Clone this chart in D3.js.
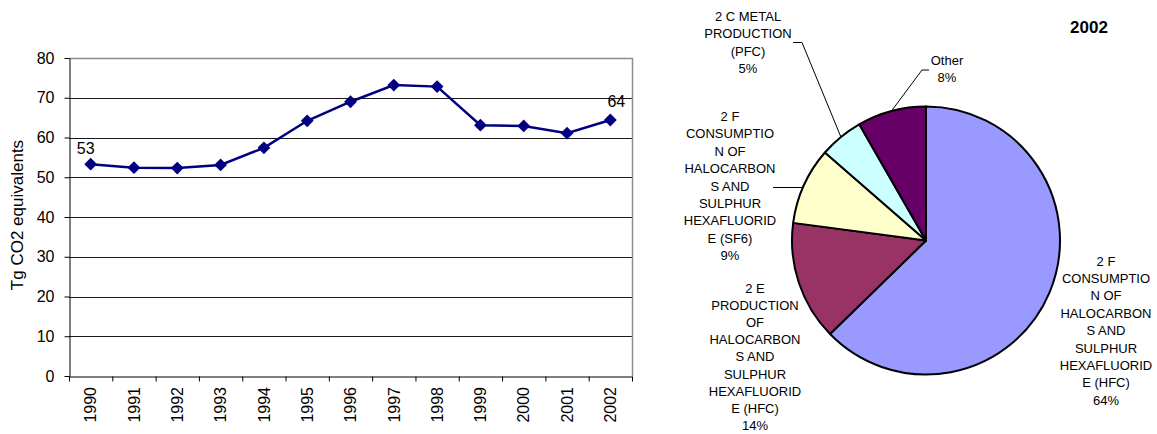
<!DOCTYPE html>
<html>
<head>
<meta charset="utf-8">
<script src="https://cdn.jsdelivr.net/npm/d3@7"></script>
<style>
  body { margin: 0; background: #fff; }
  text { font-family: "Liberation Sans", Arial, sans-serif; fill: #000; }
</style>
</head>
<body>
<div class="viewbox"></div>
<script>
// data
const years = ["1990", "1991", "1992", "1993", "1994", "1995", "1996",
               "1997", "1998", "1999", "2000", "2001", "2002"];
const emissions = [53.3, 52.4, 52.3, 53.1, 57.4, 64.2, 69.0, 73.2, 72.8, 63.1, 62.9, 61.1, 64.4];
const yTicks = [0, 10, 20, 30, 40, 50, 60, 70, 80];
const yTitle = "Tg CO2 equivalents";

const pieTitle = "2002";
const sectors = [
  "2 F\nCONSUMPTIO\nN OF\nHALOCARBON\nS AND\nSULPHUR\nHEXAFLUORID\nE (HFC)",
  "2 E\nPRODUCTION\nOF\nHALOCARBON\nS AND\nSULPHUR\nHEXAFLUORID\nE (HFC)",
  "2 F\nCONSUMPTIO\nN OF\nHALOCARBON\nS AND\nSULPHUR\nHEXAFLUORID\nE (SF6)",
  "2 C METAL\nPRODUCTION\n(PFC)",
  "Other"
];
const shares = [62.7, 14.4, 9.3, 5.3, 8.3];
const shareLabels = ["64%", "14%", "9%", "5%", "8%"];
const sliceColors = ["#9999ff", "#993366", "#ffffcc", "#ccffff", "#660066"];

const svg_width = 1157;
const svg_height = 434;

let svg = d3.select(".viewbox")
  .append("svg")
  .attr("width", svg_width)
  .attr("height", svg_height)
  .style("display", "block")

// ---------- line chart ----------
const plot = { left: 69, right: 632, top: 58, bottom: 376 };

let x = d3.scaleBand().domain(years).range([plot.left, plot.right]);
let xEdge = d3.scaleLinear().domain([0, years.length]).range([plot.left, plot.right]);
let y = d3.scaleLinear().domain([0, 80]).range([plot.bottom, plot.top]);

// gridlines
svg.append("g")
  .selectAll("line")
  .data(yTicks.filter(d => d > 0 && d < 80))
  .enter()
  .append("line")
  .attr("x1", plot.left).attr("x2", plot.right)
  .attr("y1", d => Math.round(y(d)) + 0.5).attr("y2", d => Math.round(y(d)) + 0.5)
  .attr("stroke", "#1a1a1a")

// gray plot border top + right
svg.append("path")
  .attr("d", `M${plot.left},${Math.round(y(80)) + 0.5}H${plot.right + 0.5}V${plot.bottom}`)
  .attr("fill", "none")
  .attr("stroke", "#8c8c8c")
  .attr("stroke-width", 1.5)

// y axis
let yAxis = svg.append("g")
  .attr("transform", `translate(${plot.left + 0.5},0)`)
  .call(d3.axisLeft(y).tickValues(yTicks).tickSize(5).tickPadding(10).tickSizeOuter(0))
yAxis.selectAll("text").style("font-size", "16px").style("font-family", "Liberation Sans, Arial, sans-serif")
yAxis.selectAll("line, path").attr("stroke", "#000")

// x axis: ticks sit on the band edges, labels in band centres
let xTicks = svg.append("g")
  .attr("transform", `translate(0,${plot.bottom + 0.5})`)
  .call(d3.axisBottom(xEdge).tickValues(d3.range(years.length + 1)).tickSize(5).tickFormat("").tickSizeOuter(0))
xTicks.selectAll("line, path").attr("stroke", "#000")

let xLabels = svg.append("g")
  .attr("transform", `translate(0,${plot.bottom})`)
  .call(d3.axisBottom(x).tickSize(0))
xLabels.select(".domain").remove()
xLabels.selectAll("text")
  .attr("transform", "rotate(-90)")
  .attr("x", -11)
  .attr("y", 0)
  .attr("dy", "0.36em")
  .attr("text-anchor", "end")
  .style("font-size", "16px")
  .style("font-family", "Liberation Sans, Arial, sans-serif")

// y title
svg.append("text")
  .attr("transform", `translate(23,215) rotate(-90)`)
  .attr("text-anchor", "middle")
  .style("font-size", "17px")
  .text(yTitle)

let series = years.map((yr, i) => ({ year: yr, value: emissions[i] }))
const cx = d => x(d.year) + x.bandwidth() / 2;

svg.append("path")
  .datum(series)
  .attr("fill", "none")
  .attr("stroke", "#000080")
  .attr("stroke-width", 2.5)
  .attr("d", d3.line().x(cx).y(d => y(d.value)))

svg.append("g")
  .selectAll("path")
  .data(series)
  .enter()
  .append("path")
  .attr("d", d3.symbol().type(d3.symbolSquare).size(82))
  .attr("transform", d => `translate(${cx(d)},${y(d.value)}) rotate(45)`)
  .attr("fill", "#000080")

// value labels on first and last point only (excel nudges them outward a bit)
let ends = [series[0], series[series.length - 1]]
svg.append("g")
  .selectAll("text")
  .data(ends)
  .enter()
  .append("text")
  .attr("x", (d, i) => cx(d) + (i === 0 ? -5 : 6))
  .attr("y", (d, i) => y(d.value) - (i === 0 ? 10 : 13))
  .attr("text-anchor", "middle")
  .style("font-size", "16px")
  .text(d => Math.round(d.value))

// ---------- pie ----------
const pieCx = 926, pieCy = 240.5, radius = 134;

let pieData = d3.pie().sort(null).value(d => d)(shares)
pieData.forEach((d, i) => { d.name = sectors[i]; d.pct = shareLabels[i]; d.color = sliceColors[i]; })

let arc = d3.arc().innerRadius(0).outerRadius(radius)
let rimArc = d3.arc().innerRadius(radius).outerRadius(radius)

let pie = svg.append("g").attr("transform", `translate(${pieCx},${pieCy})`)
pie.selectAll("path")
  .data(pieData)
  .enter()
  .append("path")
  .attr("d", arc)
  .attr("fill", d => d.color)
  .attr("stroke", "#000")
  .attr("stroke-width", 2)
  .attr("stroke-linejoin", "round")

// label placement (relative to pie centre): centre x, first line y, optional leader end
const labelLayout = [
  { x: 180, y: 20.5 },
  { x: -171, y: 47.5 },
  { x: -196, y: -124, leader: { x: -153, y: -53, elbow: 29 } },
  { x: -178, y: -224, leader: { x: -133, y: -198, elbow: 9 } },
  { x: 21, y: -180, leader: { x: 3, y: -170.5, elbow: -7 } }
];
const lineStep = 17.4;

pieData.forEach((d, i) => {
  let lay = labelLayout[i]
  let lines = d.name.split("\n").concat([d.pct])
  let t = pie.append("text")
    .attr("text-anchor", "middle")
    .style("font-size", "13px")
  t.selectAll("tspan")
    .data(lines)
    .enter()
    .append("tspan")
    .attr("x", lay.x)
    .attr("y", (l, j) => lay.y + j * (i === 1 ? 17.2 : lineStep))
    .attr("dy", "0.35em")
    .text(l => l)

  if (lay.leader) {
    let edge = rimArc.centroid(d)
    let pts = [edge, [lay.leader.x + lay.leader.elbow, lay.leader.y], [lay.leader.x, lay.leader.y]]
    pie.append("path")
      .attr("d", d3.line()(pts))
      .attr("fill", "none")
      .attr("stroke", "#000")
      .attr("stroke-width", 1)
  }
})

svg.append("text")
  .attr("x", 1089)
  .attr("y", 27)
  .attr("dy", "0.35em")
  .attr("text-anchor", "middle")
  .style("font-size", "17px")
  .style("font-weight", "bold")
  .text(pieTitle)
</script>
</body>
</html>
